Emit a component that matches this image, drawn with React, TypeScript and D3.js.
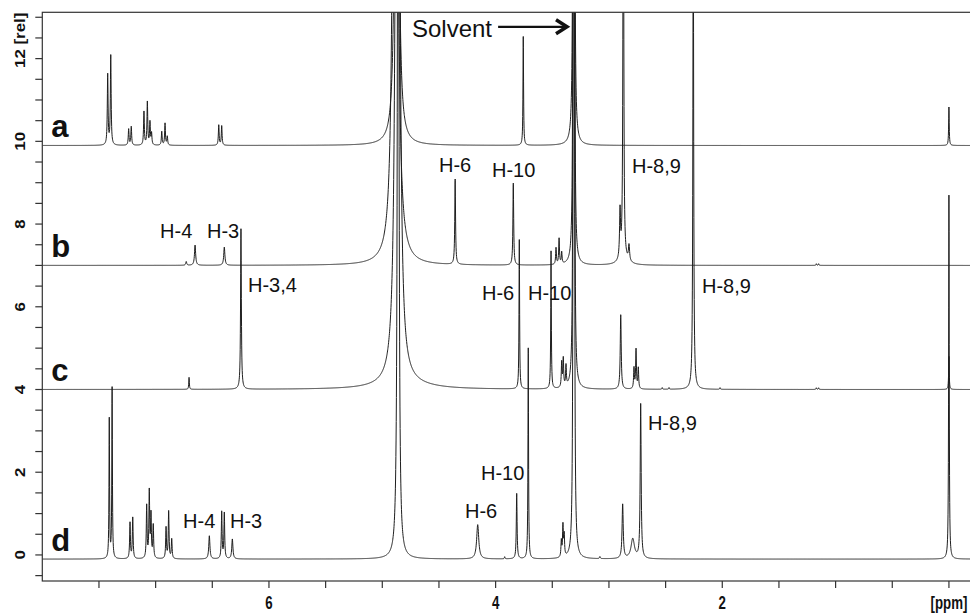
import { useMemo } from 'react'
import * as d3 from 'd3'

const W = 970
const H = 616
const PLOT = { left: 42.3, right: 971.6, top: 12.3, bottom: 581 }

const X_DOMAIN: [number, number] = [8.0, -0.2]
const Y_DOMAIN: [number, number] = [-0.63, 13.12]

const LINE_COLOR = '#1e1e1e'
const FONT = "'Liberation Sans', Arial, Helvetica, sans-serif"

// tick values
const X_TICKS = d3.range(0, 16).map((i) => i * 0.5)
const X_LABELS: { ppm: number; text: string }[] = [
  { ppm: 6, text: '6' },
  { ppm: 4, text: '4' },
  { ppm: 2, text: '2' },
  { ppm: 0, text: '[ppm]' },
]
const Y_TICKS = d3.range(-1, 27).map((i) => i * 0.5)
const Y_LABELS = [0, 2, 4, 6, 8, 10, 12]

// traces: name + vertical offset (baseline, rel units)
const TRACE_NAMES = ['a', 'b', 'c', 'd']
const TRACE_OFFSETS = [9.9, 7.0, 4.0, -0.1]

// peak tables: [ppm, height above baseline, half width (ppm)]
type Peak = [number, number, number]

const PEAKS_A: Peak[] = [
  [7.423, 1.7, 0.004], [7.396, 2.16, 0.004],
  [7.238, 0.39, 0.004], [7.215, 0.45, 0.004],
  [7.103, 0.81, 0.004], [7.073, 1.04, 0.004], [7.05, 0.55, 0.004], [7.036, 0.28, 0.004],
  [6.946, 0.33, 0.004], [6.917, 0.53, 0.004], [6.897, 0.21, 0.004],
  [6.443, 0.49, 0.004], [6.417, 0.47, 0.004],
  [4.872, 30, 0.0105],
  [3.756, 2.63, 0.003],
  [3.313, 30, 0.003], [3.307, 30, 0.003],
  [0.0, 0.93, 0.003],
]

const PEAKS_B: Peak[] = [
  [6.73, 0.09, 0.005], [6.652, 0.49, 0.006],
  [6.394, 0.44, 0.006],
  [4.885, 40, 0.0137],
  [4.357, 2.06, 0.004],
  [3.844, 1.98, 0.004],
  [3.467, 0.4, 0.004], [3.44, 0.62, 0.004], [3.417, 0.28, 0.004],
  [3.313, 25, 0.003], [3.307, 25, 0.003],
  [2.902, 1.15, 0.005], [2.873, 12, 0.004], [2.823, 0.38, 0.006], [2.87, 0.12, 0.05],
  [1.17, 0.04, 0.003], [1.15, 0.04, 0.003],
]

const PEAKS_C: Peak[] = [
  [6.705, 0.29, 0.003],
  [6.247, 3.88, 0.004],
  [4.865, 40, 0.013], [4.8, 0.12, 0.25],
  [3.791, 3.61, 0.003],
  [3.511, 3.33, 0.003],
  [3.417, 0.6, 0.004], [3.403, 0.68, 0.004], [3.379, 0.5, 0.004],
  [3.313, 25, 0.003], [3.307, 25, 0.003],
  [2.896, 1.8, 0.005],
  [2.779, 0.5, 0.004], [2.761, 0.95, 0.004], [2.741, 0.5, 0.004],
  [2.53, 0.04, 0.003], [2.47, 0.04, 0.003],
  [2.256, 12, 0.004],
  [2.02, 0.04, 0.003],
  [1.17, 0.04, 0.003], [1.15, 0.04, 0.003],
  [0.0, 0.8, 0.003],
]

const PEAKS_D: Peak[] = [
  [7.409, 3.37, 0.003], [7.384, 4.12, 0.003],
  [7.226, 0.87, 0.004], [7.202, 0.99, 0.004],
  [7.079, 1.27, 0.004], [7.056, 1.6, 0.004], [7.041, 1.03, 0.004], [7.021, 0.79, 0.004],
  [6.908, 0.75, 0.004], [6.885, 1.14, 0.004], [6.858, 0.47, 0.004],
  [6.526, 0.56, 0.006],
  [6.417, 1.13, 0.004], [6.394, 1.1, 0.004],
  [6.323, 0.48, 0.006],
  [4.86, 30, 0.006],
  [4.158, 0.83, 0.011],
  [3.92, 0.05, 0.003],
  [3.814, 1.58, 0.004],
  [3.712, 5.1, 0.003],
  [3.42, 0.39, 0.004], [3.406, 0.75, 0.004], [3.395, 0.51, 0.004],
  [3.313, 25, 0.003], [3.307, 25, 0.003],
  [3.08, 0.05, 0.004],
  [2.879, 1.31, 0.006],
  [2.79, 0.48, 0.018],
  [2.72, 3.73, 0.005],
  [0.0, 8.8, 0.003],
]

const TRACE_PEAKS = [PEAKS_A, PEAKS_B, PEAKS_C, PEAKS_D]

// annotations: text start (ppm), text baseline (rel units)
const ANNOTATIONS: { text: string; ppm: number; value: number }[] = [
  { text: 'H-4', ppm: 6.961, value: 7.66 },
  { text: 'H-3', ppm: 6.547, value: 7.66 },
  { text: 'H-6', ppm: 4.5, value: 9.27 },
  { text: 'H-10', ppm: 4.032, value: 9.14 },
  { text: 'H-8,9', ppm: 2.797, value: 9.24 },
  { text: 'H-3,4', ppm: 6.185, value: 6.36 },
  { text: 'H-6', ppm: 4.12, value: 6.17 },
  { text: 'H-10', ppm: 3.714, value: 6.17 },
  { text: 'H-8,9', ppm: 2.179, value: 6.33 },
  { text: 'H-4', ppm: 6.758, value: 0.65 },
  { text: 'H-3', ppm: 6.344, value: 0.65 },
  { text: 'H-6', ppm: 4.27, value: 0.895 },
  { text: 'H-10', ppm: 4.129, value: 1.81 },
  { text: 'H-8,9', ppm: 2.656, value: 3.02 },
]

const SOLVENT = { text: 'Solvent', ppm: 4.738, value: 12.52, arrowFrom: 3.978, arrowTo: 3.37, arrowValue: 12.77 }

const STEP = 0.0015

function buildTrace(peaks: Peak[], offset: number): [number, number][] {
  const n = Math.round((X_DOMAIN[0] - X_DOMAIN[1]) / STEP)
  const grid = d3.range(0, n + 1).map((i) => X_DOMAIN[0] - i * STEP)
  const all = grid.concat(peaks.map((p) => p[0])).sort((a, b) => b - a)
  return all.map((ppm) => {
    let v = offset
    for (const [c, h, g] of peaks) {
      const dx = ppm - c
      v += (h * g * g) / (g * g + dx * dx)
    }
    return [ppm, v]
  })
}

export default function App() {
  const x = d3.scaleLinear().domain(X_DOMAIN).range([PLOT.left, PLOT.right])
  const y = d3.scaleLinear().domain(Y_DOMAIN).range([PLOT.bottom, PLOT.top])

  const paths = useMemo(() => {
    const line = d3
      .line<[number, number]>()
      .x((d) => x(d[0]))
      .y((d) => y(Math.min(d[1], 16)))
    return TRACE_PEAKS.map((peaks, i) => line(buildTrace(peaks, TRACE_OFFSETS[i])) ?? '')
  }, [])

  const ay = y(SOLVENT.arrowValue)
  const ax = x(SOLVENT.arrowTo)

  return (
    <svg width={W} height={H} style={{ position: 'absolute', left: 0, top: 0, background: '#fff' }}>
      <defs>
        <clipPath id="plot-clip">
          <rect x={PLOT.left} y={PLOT.top} width={PLOT.right - PLOT.left} height={PLOT.bottom - PLOT.top} />
        </clipPath>
      </defs>
      <rect x={0} y={0} width={W} height={H} fill="#fff" />

      {/* spectra */}
      <g clipPath="url(#plot-clip)" fill="none" stroke={LINE_COLOR} strokeWidth={1}>
        {paths.map((d, i) => (
          <path key={i} d={d} />
        ))}
      </g>

      {/* frame */}
      <rect
        x={PLOT.left}
        y={PLOT.top}
        width={PLOT.right - PLOT.left + 5}
        height={PLOT.bottom - PLOT.top}
        fill="none"
        stroke="#333"
        strokeWidth={1.2}
      />

      {/* x axis */}
      <g stroke="#333" strokeWidth={1.2}>
        {X_TICKS.map((t) => (
          <line key={t} x1={x(t)} x2={x(t)} y1={PLOT.bottom} y2={PLOT.bottom + 7} />
        ))}
      </g>
      <g fontFamily={FONT} fontWeight="bold" fontSize={19} fill="#111" textAnchor="middle">
        {X_LABELS.map((l) => (
          <text key={l.text} transform={`translate(${x(l.ppm)},${PLOT.bottom + 28}) scale(0.7,1)`}>
            {l.text}
          </text>
        ))}
      </g>

      {/* y axis */}
      <g stroke="#333" strokeWidth={1.2}>
        {Y_TICKS.map((t) => (
          <line key={t} x1={PLOT.left - 7} x2={PLOT.left} y1={y(t)} y2={y(t)} />
        ))}
      </g>
      <g fontFamily={FONT} fontWeight="bold" fontSize={15} fill="#111" textAnchor="middle">
        {Y_LABELS.map((t) => (
          <text key={t} transform={`translate(24.5,${y(t)}) rotate(-90) scale(1.12,1)`}>
            {t}
          </text>
        ))}
        <text transform={`translate(24.5,${y(12) - 30}) rotate(-90) scale(1.12,1)`}>[rel]</text>
      </g>

      {/* trace labels */}
      <g fontFamily={FONT} fontWeight="bold" fontSize={31} fill="#111">
        {TRACE_NAMES.map((n, i) => (
          <text key={n} x={PLOT.left + 9} y={y(TRACE_OFFSETS[i]) - 8.5}>
            {n}
          </text>
        ))}
      </g>

      {/* peak annotations */}
      <g fontFamily={FONT} fontSize={20} fill="#111">
        {ANNOTATIONS.map((a, i) => (
          <text key={i} x={x(a.ppm)} y={y(a.value)}>
            {a.text}
          </text>
        ))}
        <text x={x(SOLVENT.ppm)} y={y(SOLVENT.value)} fontSize={24}>
          {SOLVENT.text}
        </text>
      </g>
      <line x1={x(SOLVENT.arrowFrom)} x2={ax - 2} y1={ay} y2={ay} stroke="#111" strokeWidth={2.2} />
      <polyline
        points={`${ax - 11},${ay - 7} ${ax},${ay} ${ax - 11},${ay + 7}`}
        fill="none"
        stroke="#111"
        strokeWidth={3.5}
        strokeLinejoin="miter"
      />
    </svg>
  )
}
